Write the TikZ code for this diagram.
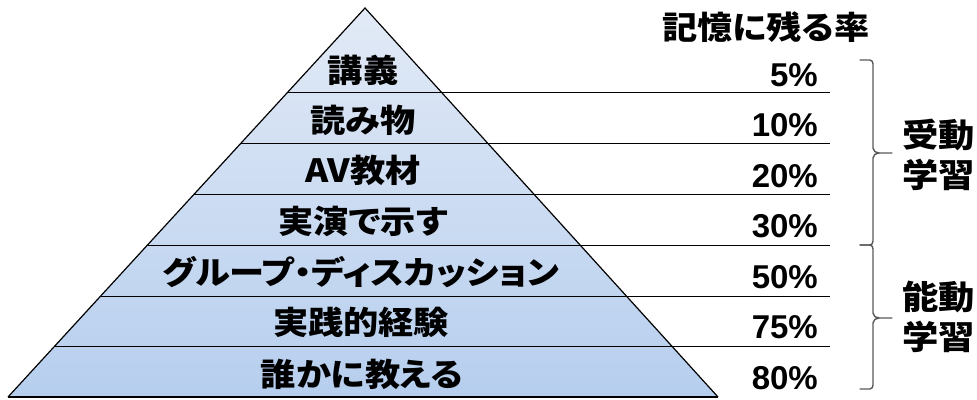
\documentclass[tikz,border=0pt]{standalone}
\usepackage{fontspec}
\newfontfamily\cjk[RawFeature=+palt,FakeStretch=1.1]{Noto Sans CJK JP}
\newfontfamily\numf{Liberation Sans}
\begin{document}
\begin{tikzpicture}[x=1pt,y=-1pt,
  lbl/.style={font=\cjk\bfseries\fontsize{32}{36}\selectfont, inner sep=0pt, anchor=center},
  pct/.style={font=\numf\bfseries\fontsize{33}{36}\selectfont, inner sep=0pt, anchor=east},
  side/.style={font=\cjk\bfseries\fontsize{33}{38}\selectfont, inner sep=0pt, anchor=west, align=left},
  rule/.style={line width=0.9pt, black},
  brace/.style={line width=1.4pt, draw=black!65, line cap=round, line join=round}]
\useasboundingbox (0,0) rectangle (977,399);
\definecolor{topc}{HTML}{E2EAF6}
\definecolor{botc}{HTML}{B6CEEE}
\coordinate (apex) at (365,8);
\coordinate (bl) at (8,397);
\coordinate (br) at (718,397);
\shade[top color=topc, bottom color=botc] (apex) -- (br) -- (bl) -- cycle;
% layer lines
\foreach \y/\x in {92/287.9,143/241.1,194/194.3,245/147.5,296/100.7,346/54.8}
  \draw[rule] (\x,\y) -- (830,\y);
\draw[line width=1.2pt] (bl) -- (apex) -- (br);
\draw[line width=2pt] (bl) -- (br);
% labels
\node[lbl] (l1) at (363,70) {講義};
\node[lbl] (l2) at (363,120) {読み物};
\node[lbl] (l3) at (363,170) {AV教材};
\node[lbl] (l4) at (363,221) {実演で示す};
\node[lbl] (l5) at (361,272) {グループ・ディスカッション};
\node[lbl] (l6) at (361,322) {実践的経験};
\node[lbl] (l7) at (362,374) {誰かに教える};
% percents
\node[pct] (p1) at (818,75) {5\%};
\node[pct] (p2) at (818,125) {10\%};
\node[pct] (p3) at (818,176) {20\%};
\node[pct] (p4) at (818,226) {30\%};
\node[pct] (p5) at (818,277) {50\%};
\node[pct] (p6) at (818,327) {75\%};
\node[pct] (p7) at (818,378) {80\%};
\node[lbl, anchor=center] (hdr) at (766,27) {記憶に残る率};
% braces
\draw[brace] (860,60) -- (870,60) to[out=0,in=90] (873,64) -- (873,148) to[out=-90,in=180] (879,153) -- (892,153);
\draw[brace] (879,153) to[out=180,in=90] (873,158) -- (873,241) to[out=-90,in=0] (870,245) -- (860,245);
\draw[brace] (860,245) -- (870,245) to[out=0,in=90] (873,249) -- (873,313) to[out=-90,in=180] (879,318) -- (892,318);
\draw[brace] (879,318) to[out=180,in=90] (873,323) -- (873,385) to[out=-90,in=0] (870,389) -- (860,389);
\node[side] (s1) at (902,155) {受動\\[2pt]学習};
\node[side] (s2) at (902,317) {能動\\[2pt]学習};
\end{tikzpicture}
\end{document}
